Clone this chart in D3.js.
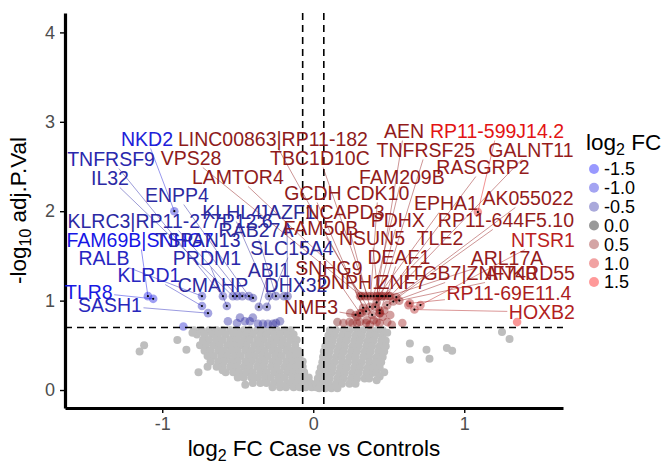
<!DOCTYPE html>
<html><head><meta charset="utf-8">
<script src="https://cdn.jsdelivr.net/npm/d3@7"></script>
<style>
body{margin:0;background:#fff}
svg{display:block}
text{font-family:"Liberation Sans",Arial,Helvetica,sans-serif}
</style>
</head><body>
<svg id="chart" width="666" height="466"></svg>
<script>
// ---- axis ticks and cut-offs ----
const xTicks = [-1, 0, 1];
const yTicks = [0, 1, 2, 3, 4];
const fcCutoff = 0.07;          // |log2 FC| threshold
const pCutoff = 0.699;          // -log10(0.2)
const legendBreaks = [-1.5, -1.0, -0.5, 0.0, 0.5, 1.0, 1.5];

// ---- non-significant genes, left cloud: [-log10 p, [log2 FC ...]] ----
const nsLeft = [
  [0.67, [-0.79,-0.74,-0.69,-0.64,-0.60,-0.55,-0.51,-0.46,-0.42,-0.37,-0.33,-0.28,-0.24,-0.19,-0.15]],
  [0.62, [-0.77,-0.72,-0.67,-0.63,-0.58,-0.53,-0.49,-0.44,-0.40,-0.35,-0.31,-0.26,-0.22,-0.17,-0.13]],
  [0.56, [-0.73,-0.69,-0.64,-0.60,-0.55,-0.51,-0.46,-0.42,-0.37,-0.33,-0.28,-0.24,-0.20,-0.15,-0.11]],
  [0.50, [-0.75,-0.71,-0.66,-0.62,-0.57,-0.53,-0.48,-0.44,-0.39,-0.35,-0.30,-0.26,-0.21,-0.17,-0.12]],
  [0.44, [-0.72,-0.68,-0.63,-0.59,-0.54,-0.50,-0.45,-0.41,-0.36,-0.32,-0.27,-0.23,-0.18,-0.14,-0.10]],
  [0.38, [-0.70,-0.66,-0.61,-0.57,-0.52,-0.48,-0.43,-0.39,-0.34,-0.30,-0.25,-0.21,-0.16,-0.12,-0.09]],
  [0.32, [-0.68,-0.63,-0.59,-0.54,-0.50,-0.45,-0.41,-0.36,-0.32,-0.27,-0.23,-0.18,-0.14,-0.10,-0.07]],
  [0.26, [-0.64,-0.60,-0.55,-0.51,-0.46,-0.42,-0.37,-0.33,-0.28,-0.24,-0.19,-0.15,-0.11,-0.07]],
  [0.20, [-0.58,-0.53,-0.49,-0.44,-0.40,-0.35,-0.31,-0.26,-0.22,-0.17,-0.13,-0.09,-0.06]],
  [0.14, [-0.50,-0.46,-0.41,-0.37,-0.32,-0.28,-0.23,-0.19,-0.14,-0.10,-0.06,-0.03]],
  [0.08, [-0.40,-0.35,-0.31,-0.26,-0.22,-0.17,-0.13,-0.09,-0.05,-0.02]],
  [0.03, [-0.27,-0.22,-0.18,-0.13,-0.09,-0.05,-0.01,0.02]]
];

// ---- non-significant genes, right cloud ----
const nsRight = [
  [0.67, [0.11,0.15,0.20,0.24,0.29,0.33,0.38,0.42,0.46]],
  [0.61, [0.10,0.14,0.19,0.23,0.28,0.32,0.37,0.41,0.46]],
  [0.55, [0.09,0.13,0.18,0.22,0.27,0.31,0.36,0.40,0.45,0.48]],
  [0.49, [0.08,0.12,0.17,0.21,0.26,0.30,0.35,0.39,0.44,0.48]],
  [0.43, [0.07,0.11,0.16,0.20,0.25,0.29,0.34,0.38,0.43,0.47]],
  [0.37, [0.065,0.10,0.15,0.19,0.24,0.28,0.33,0.37,0.42,0.46]],
  [0.31, [0.06,0.10,0.14,0.19,0.23,0.28,0.32,0.37,0.41,0.45]],
  [0.25, [0.05,0.09,0.13,0.18,0.22,0.27,0.31,0.36,0.40,0.44]],
  [0.19, [0.04,0.08,0.12,0.17,0.21,0.26,0.30,0.35,0.39,0.42]],
  [0.13, [0.03,0.07,0.11,0.16,0.20,0.25,0.29,0.34,0.37]],
  [0.07, [0.02,0.06,0.10,0.15,0.19,0.24,0.28]],
  [0.02, [0.04,0.08,0.12,0.16]]
];

// ---- scattered non-significant genes: [log2 FC, -log10 p] ----
const nsOutliers = [
  [-1.15,0.43],[-1.12,0.50],[-0.90,0.56],[-0.84,0.45],[-0.80,0.64],[-0.76,0.20],
  [-0.70,0.26],[-0.60,0.22],[-0.45,0.06],
  [0.44,0.15],[0.42,0.11],[0.47,0.20],[0.49,0.64],[0.64,0.52],[0.64,0.34],
  [0.75,0.45],[0.77,0.35],[0.885,0.47],[0.92,0.44],[1.30,0.57],[1.25,0.65]
];

// ---- significant, unlabelled genes ----
const sigPoints = [
  [-0.86,0.71],[-0.565,0.77],[-0.505,0.75],[-0.485,0.81],[-0.452,0.77],[-0.42,0.77],
  [-0.40,0.81],[-0.366,0.74],[-0.333,0.74],[-0.30,0.74],[-0.267,0.74],[-0.247,0.75],[-0.22,0.77],
  [0.16,0.76],[0.20,0.75],[0.24,0.76],[0.245,0.86],[0.26,0.75],[0.29,0.75],[0.29,0.82],
  [0.31,0.76],[0.32,0.86],[0.35,0.75],[0.355,0.78],[0.375,0.73],[0.40,0.78],[0.42,0.76],
  [0.44,0.75],[0.44,0.86],[0.46,0.82],[0.47,0.89],[0.49,0.76],[0.51,0.84],[0.52,0.73],
  [0.59,0.75],[0.63,0.95],[1.35,0.76]
];

// ---- labelled genes ----
const geneNames = [
  "NKD2","TNFRSF9","IL32","ENPP4","KLRC3|RP11-277P12.6","FAM69B|SNHG7","TSPAN13","RALB",
  "KLRD1","TLR8","SASH1","KLHL4","JAZF1","RAB27A","PRDM1","SLC15A4","ABI1","CMAHP","DHX32",
  "LINC00863|RP11-182","VPS28","TBC1D10C","LAMTOR4","GCDH","CDK10","FAM209B","AEN",
  "RP11-599J14.2","TNFRSF25","GALNT11","RASGRP2","EPHA1","AK055022","NCAPD3","PDHX",
  "RP11-644F5.10","FAM50B","NSUN5","TLE2","NTSR1","DEAF1","ARL17A","SNHG9","ITGB7|ZNF740",
  "ANKRD55","DNPH1","ZNF7","RP11-69E11.4","HOXB2","NME3"
];
const geneFC = [
  -0.92,-0.598,-0.532,-0.426,-0.505,-1.095,-0.47,-0.737,
  -0.737,-1.06,-0.697,-0.293,-0.17,-0.247,-0.572,-0.307,-0.36,-0.399,-0.194,
  0.31,0.32,0.36,0.34,0.33,0.38,0.40,0.42,
  1.09,0.45,0.51,0.48,0.43,0.55,0.375,0.41,
  0.49,0.39,0.44,0.46,0.71,0.44,0.50,0.31,0.53,
  0.57,0.35,0.42,0.64,0.67,0.28
];
const geneNegLogP = [
  2.00,1.05,1.05,1.05,1.05,1.05,1.05,1.05,
  0.94,1.02,0.86,1.05,1.05,1.05,0.94,0.93,0.93,1.03,1.05,
  1.05,1.05,1.05,1.05,0.92,1.05,1.05,1.05,
  1.99,1.05,1.05,1.05,1.05,1.04,0.93,0.93,
  0.95,0.84,0.89,1.05,0.95,0.86,1.05,0.86,0.99,
  1.00,0.88,0.98,0.97,0.90,0.84
];
// where each repelled label ended up, in data units
const labelFC = [
  -1.101,-1.339,-1.346,-0.903,-0.948,-1.147,-0.764,-1.386,
  -1.088,-1.486,-1.346,-0.537,-0.174,-0.379,-0.704,-0.141,-0.293,-0.664,-0.114,
  -0.267,-0.809,0.044,-0.499,-0.002,0.428,0.587,0.601,
  1.217,0.746,1.442,1.124,0.879,1.422,0.210,0.560,
  1.276,0.050,0.389,0.839,1.521,0.567,1.283,0.104,1.045,
  1.435,0.243,0.587,1.296,1.514,-0.015
];
const labelNegLogP = [
  2.808,2.584,2.371,2.181,1.890,1.678,1.678,1.477,
  1.286,1.096,0.951,1.991,1.991,1.790,1.477,1.588,1.342,1.174,1.174,
  2.808,2.595,2.595,2.383,2.204,2.204,2.383,2.897,
  2.897,2.685,2.685,2.494,2.092,2.148,1.991,1.902,
  1.902,1.812,1.700,1.700,1.678,1.488,1.477,1.365,1.309,
  1.309,1.208,1.208,1.085,0.872,0.928
];

// ---- scales ----
const svg = d3.select("#chart");
const x = d3.scaleLinear().domain([-1.644, 1.654]).range([65, 563]);
const y = d3.scaleLinear().domain([-0.201, 4.217]).range([408, 13]);
const fcColour = d3.scaleLinear()
  .domain([-1.5, -0.9, -0.55, -0.15, 0, 0.2, 0.55, 0.8, 1.5])
  .range(["#0000ff","#2121d8","#2b29a6","#2e2a96","#000000","#8b1a1a","#961c1c","#d02020","#ff0000"])
  .clamp(true);

// flatten the cloud rows
const nsPoints = [];
for (const [p, xs] of nsLeft.concat(nsRight)) for (const fc of xs) nsPoints.push([fc, p]);
for (const d of nsOutliers) nsPoints.push(d);

const genes = geneNames.map((g, i) => ({
  name: g, fc: geneFC[i], p: geneNegLogP[i], lx: labelFC[i], ly: labelNegLogP[i]
}));

// ---- points ----
svg.append("g").selectAll("circle").data(nsPoints).join("circle")
  .attr("cx", d => x(d[0])).attr("cy", d => y(d[1])).attr("r", 4)
  .attr("fill", "#bebebe");

svg.append("g").selectAll("circle").data(sigPoints).join("circle")
  .attr("cx", d => x(d[0])).attr("cy", d => y(d[1])).attr("r", 4.3)
  .attr("fill", d => fcColour(d[0])).attr("fill-opacity", 0.42);

svg.append("g").selectAll("circle").data(genes).join("circle")
  .attr("cx", d => x(d.fc)).attr("cy", d => y(d.p)).attr("r", 4.3)
  .attr("fill", d => fcColour(d.fc)).attr("fill-opacity", 0.42);

// ---- threshold lines ----
const guides = svg.append("g").attr("stroke", "#000").attr("stroke-width", 1.6)
  .attr("stroke-dasharray", "7,5").attr("fill", "none");
guides.append("line").attr("x1", x.range()[0]).attr("x2", x.range()[1])
  .attr("y1", y(pCutoff)).attr("y2", y(pCutoff));
[-fcCutoff, fcCutoff].forEach(v => guides.append("line")
  .attr("x1", x(v)).attr("x2", x(v)).attr("y1", y.range()[1]).attr("y2", y.range()[0]));

// ---- axes ----
const yAxis = svg.append("g").attr("transform", `translate(${x.range()[0]},0)`)
  .call(d3.axisLeft(y).tickValues(yTicks).tickSize(5).tickSizeOuter(0).tickPadding(5).tickFormat(d3.format("d")));
const xAxis = svg.append("g").attr("transform", `translate(0,${y.range()[0]})`)
  .call(d3.axisBottom(x).tickValues(xTicks).tickSize(5).tickSizeOuter(0).tickPadding(4).tickFormat(d => d < 0 ? "-" + Math.abs(d) : d));
[yAxis, xAxis].forEach(a => {
  a.select(".domain").attr("stroke", "#000").attr("stroke-width", 3.2);
  a.selectAll(".tick line").attr("stroke", "#000").attr("stroke-width", 1.4);
  a.selectAll(".tick text").attr("fill", "#4d4d4d").style("font-size", "18px")
    .style("font-family", '"Liberation Sans",Arial,sans-serif');
});

// axis titles
const xt = svg.append("text").attr("x", (x.range()[0] + x.range()[1]) / 2).attr("y", 456)
  .attr("text-anchor", "middle").style("font-size", "22.5px").attr("fill", "#000");
xt.append("tspan").text("log");
xt.append("tspan").text("2").attr("dy", 5).style("font-size", "16px");
xt.append("tspan").text(" FC Case vs Controls").attr("dy", -5);

const yt = svg.append("text")
  .attr("transform", `translate(26,${(y.range()[0] + y.range()[1]) / 2}) rotate(-90)`)
  .attr("text-anchor", "middle").style("font-size", "22.5px").attr("fill", "#000");
yt.append("tspan").text("-log");
yt.append("tspan").text("10").attr("dy", 5).style("font-size", "16px");
yt.append("tspan").text(" adj.P.Val").attr("dy", -5);

// ---- repelled labels with segments ----
const labelLayer = svg.append("g");
const segLayer = labelLayer.append("g");
const dotLayer = labelLayer.append("g");
const textLayer = labelLayer.append("g");

genes.forEach(d => {
  const col = fcColour(d.fc);
  const t = textLayer.append("text")
    .attr("x", x(d.lx)).attr("y", y(d.ly)).attr("dy", "0.36em")
    .attr("text-anchor", "middle").style("font-size", "19.5px")
    .attr("fill", col).text(d.name);
  const b = t.node().getBBox();
  const pad = 1.5;
  const bx = { x: b.x - pad, y: b.y + 3 - pad, w: b.width + 2 * pad, h: b.height - 6 + 2 * pad };
  const cx = bx.x + bx.w / 2, cy = bx.y + bx.h / 2;
  const px = x(d.fc), py = y(d.p);
  const dx = px - cx, dy = py - cy;
  const sx = dx !== 0 ? (bx.w / 2) / Math.abs(dx) : Infinity;
  const sy = dy !== 0 ? (bx.h / 2) / Math.abs(dy) : Infinity;
  const s = Math.min(sx, sy);
  if (s < 1) {
    segLayer.append("line")
      .attr("x1", cx + dx * s).attr("y1", cy + dy * s)
      .attr("x2", px).attr("y2", py)
      .attr("stroke", col).attr("stroke-width", 0.55).attr("stroke-opacity", 0.85);
  }
  dotLayer.append("circle").attr("cx", px).attr("cy", py).attr("r", 1.1).attr("fill", "#000");
});

// ---- legend ----
const lg = svg.append("g");
const lt = lg.append("text").attr("x", 586).attr("y", 150).style("font-size", "22.5px").attr("fill", "#000");
lt.append("tspan").text("log");
lt.append("tspan").text("2").attr("dy", 5).style("font-size", "16px");
lt.append("tspan").text(" FC").attr("dy", -5);
const keyY = d3.scalePoint().domain(legendBreaks).range([169, 282]);
lg.selectAll("circle").data(legendBreaks).join("circle")
  .attr("cx", 594).attr("cy", d => keyY(d)).attr("r", 5)
  .attr("fill", d => fcColour(d)).attr("fill-opacity", 0.4);
lg.selectAll("text.k").data(legendBreaks).join("text").attr("class", "k")
  .attr("x", 604).attr("y", d => keyY(d)).attr("dy", "0.36em")
  .style("font-size", "18px").attr("fill", "#000")
  .text(d => d3.format(".1f")(d).replace("−", "-"));
</script>
</body></html>
